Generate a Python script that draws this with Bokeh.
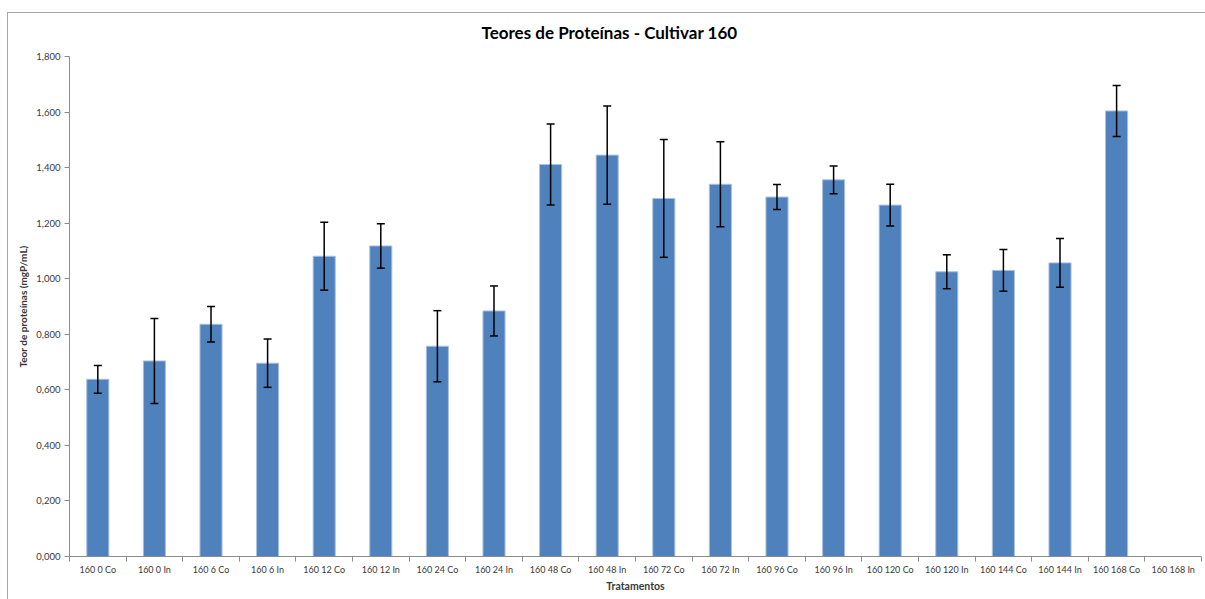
from bokeh.plotting import figure
from bokeh.models import (ColumnDataSource, Range1d, FixedTicker, Whisker, TeeHead,
                          CustomJSTickFormatter)
from bokeh.embed import file_html
from bokeh.resources import INLINE

# Protein content per treatment (mgP/mL) with standard deviations
categories = ["160 0 Co", "160 0 In", "160 6 Co", "160 6 In", "160 12 Co", "160 12 In",
              "160 24 Co", "160 24 In", "160 48 Co", "160 48 In", "160 72 Co", "160 72 In",
              "160 96 Co", "160 96 In", "160 120 Co", "160 120 In", "160 144 Co", "160 144 In",
              "160 168 Co", "160 168 In"]
teor = [0.638, 0.704, 0.836, 0.696, 1.081, 1.118, 0.757, 0.884, 1.411, 1.445,
        1.289, 1.340, 1.294, 1.356, 1.265, 1.025, 1.030, 1.057, 1.604, None]
desvio = [0.050, 0.153, 0.064, 0.087, 0.122, 0.080, 0.128, 0.090, 0.146, 0.177,
          0.212, 0.153, 0.045, 0.050, 0.075, 0.061, 0.075, 0.088, 0.092, None]
y_ticks = [0.0, 0.2, 0.4, 0.6, 0.8, 1.0, 1.2, 1.4, 1.6, 1.8]

FONT = "Lato"
TEXT = "#3a3a3a"
AXIS = "#8c8c8c"
EDGE = "#a6a6a6"

idx = [i for i, v in enumerate(teor) if v is not None]
src = ColumnDataSource(dict(
    x=[i + 0.5 for i in idx],
    top=[teor[i] for i in idx],
    upper=[teor[i] + desvio[i] for i in idx],
    lower=[teor[i] - desvio[i] for i in idx],
))

p = figure(width=1198, height=595, output_backend="svg", toolbar_location=None,
           x_range=Range1d(0, len(categories)), y_range=Range1d(0, 1.8),
           min_border_left=62, min_border_right=4, min_border_top=52, min_border_bottom=43,
           title="Teores de Proteínas - Cultivar 160",
           margin=(4, 0, 0, 7))
# chart-area edge: thin grey lines along the top and left of the canvas
line = f"linear-gradient({EDGE}, {EDGE})"
p.styles = {
    "background": f"{line} 0 8px / 100% 1px no-repeat, {line} 0 8px / 1px 100% no-repeat, white",
}
p.outline_line_color = None
p.grid.visible = False
p.background_fill_color = "white"
p.border_fill_color = None

p.title.align = "left"
p.title.offset = 412
p.title.text_font = FONT
p.title.text_font_size = "17px"
p.title.text_font_style = "bold"
p.title.text_color = "black"
p.title.standoff = 27

p.vbar(x="x", top="top", width=0.39, bottom=0, source=src,
       fill_color="#4f81bd", line_color="#a9c0e0", line_width=1)

p.add_layout(Whisker(base="x", upper="upper", lower="lower", source=src,
                     level="annotation",
                     line_color="black", line_width=1.5,
                     upper_head=TeeHead(size=8, line_color="black", line_width=1.5),
                     lower_head=TeeHead(size=8, line_color="black", line_width=1.5)))

# x axis: labels centred on categories, tick marks between them
xa = p.xaxis[0]
xa.ticker = FixedTicker(ticks=[i + 0.5 for i in range(len(categories))],
                        minor_ticks=list(range(len(categories) + 1)))
xa.major_label_overrides = {i + 0.5: c for i, c in enumerate(categories)}
xa.major_tick_line_color = None
xa.major_tick_out = 0
xa.major_tick_in = 0
xa.minor_tick_out = 5
xa.minor_tick_in = 0
xa.minor_tick_line_color = AXIS
xa.axis_line_color = AXIS
xa.major_label_standoff = 2
xa.major_label_text_font = FONT
xa.major_label_text_font_size = "9px"
xa.major_label_text_color = TEXT
xa.axis_label = "Tratamentos"
xa.axis_label_text_font = FONT
xa.axis_label_text_font_size = "10.5px"
xa.axis_label_text_font_style = "bold"
xa.axis_label_text_color = TEXT
xa.axis_label_standoff = 2

ya = p.yaxis[0]
ya.ticker = FixedTicker(ticks=y_ticks)
ya.formatter = CustomJSTickFormatter(code="return tick.toFixed(3).replace('.', ',');")
ya.major_tick_out = 5
ya.major_tick_in = 0
ya.minor_tick_line_color = None
ya.major_tick_line_color = AXIS
ya.axis_line_color = AXIS
ya.major_label_standoff = 4
ya.major_label_text_font = FONT
ya.major_label_text_font_size = "9.5px"
ya.major_label_text_color = TEXT
ya.axis_label = "Teor de proteínas (mgP/mL)"
ya.axis_label_text_font = FONT
ya.axis_label_text_font_size = "10px"
ya.axis_label_text_font_style = "bold"
ya.axis_label_text_color = TEXT
ya.axis_label_standoff = 4

open("out.html", "w").write(file_html(p, INLINE))
